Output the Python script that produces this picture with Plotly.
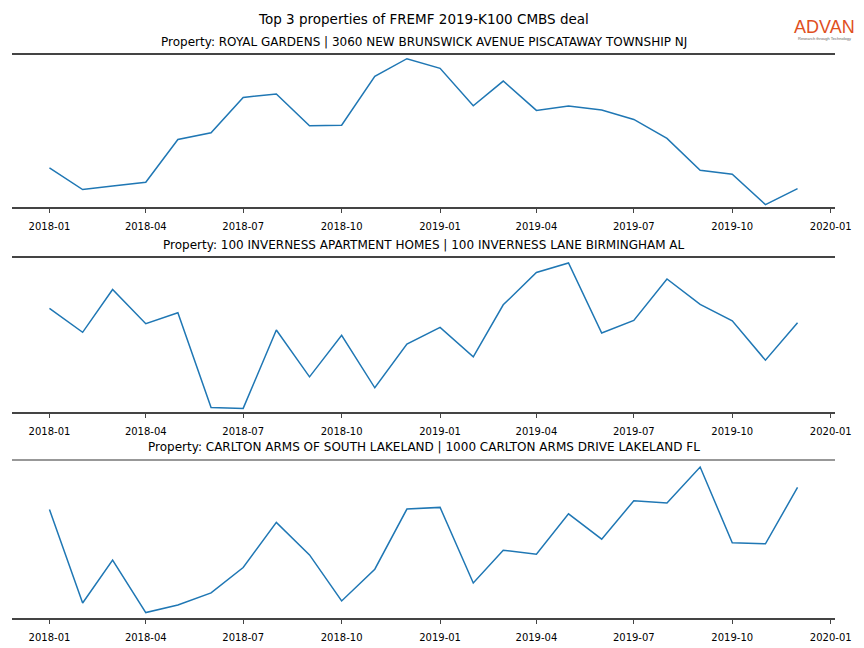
import plotly.graph_objects as go
import pandas as pd

W, H = 864, 648

months = pd.date_range("2018-01-01", "2019-12-01", freq="MS")
tick_dates = pd.date_range("2018-01-01", "2020-01-01", freq="3MS")
tick_labels = [d.strftime("%Y-%m") for d in tick_dates]

titles = [
    "Property: ROYAL GARDENS | 3060 NEW BRUNSWICK AVENUE PISCATAWAY TOWNSHIP NJ",
    "Property: 100 INVERNESS APARTMENT HOMES | 100 INVERNESS LANE BIRMINGHAM AL",
    "Property: CARLTON ARMS OF SOUTH LAKELAND | 1000 CARLTON ARMS DRIVE LAKELAND FL",
]

royal_gardens = [39.0, 17.4, 21.0, 24.7, 67.4, 74.0, 109.4, 112.7, 81.0, 81.7, 130.4, 148.0,
                 138.4, 101.0, 125.7, 96.4, 100.7, 96.7, 87.4, 68.4, 36.7, 32.7, 2.4, 18.4]
inverness = [104.0, 80.0, 123.0, 88.6, 99.6, 4.6, 3.6, 82.3, 35.3, 77.0, 24.3, 68.3,
             85.0, 55.3, 107.6, 140.0, 149.6, 79.3, 92.0, 133.6, 108.0, 91.6, 52.0, 89.6]
carlton = [108.4, 15.0, 57.7, 5.4, 13.0, 25.0, 50.4, 95.4, 63.0, 17.0, 48.7, 108.7,
           110.4, 35.0, 67.7, 63.7, 104.0, 78.7, 117.0, 114.7, 150.7, 75.0, 74.0, 130.4]

series = [royal_gardens, inverness, carlton]
y_ranges = [[0, 151.7], [0, 154.6], [0, 157.7]]
# panel pixel extents (top, bottom)
panels_px = [(55, 207), (258, 412), (460, 618)]

x_range = [months[0] - pd.Timedelta(days=35), months[-1] + pd.Timedelta(days=35)]

FONT = "DejaVu Sans"
fig = go.Figure()
annotations = []
shapes = []
for i, (vals, (t, b)) in enumerate(zip(series, panels_px)):
    n = "" if i == 0 else str(i + 1)
    fig.add_trace(go.Scatter(x=months, y=vals, mode="lines",
                             line=dict(color="#1f77b4", width=1.5),
                             xaxis="x" + n, yaxis="y" + n, showlegend=False))
    dom = [1 - b / H, 1 - t / H]
    mirror = i < 2
    fig.update_layout(**{
        "xaxis" + n: dict(domain=[0, 1], range=x_range, anchor="y" + n,
                          tickvals=tick_dates, ticktext=tick_labels,
                          showgrid=False, zeroline=False,
                          showline=True, linecolor="#444444", linewidth=2,
                          mirror=mirror,
                          ticks="outside", ticklen=4, tickwidth=1, tickcolor="#444444",
                          ticklabelstandoff=5,
                          tickfont=dict(family=FONT, size=10, color="black")),
        "yaxis" + n: dict(domain=dom, range=y_ranges[i], anchor="x" + n,
                          showgrid=False, zeroline=False, showline=False,
                          showticklabels=False, ticks=""),
    })
    annotations.append(dict(text=titles[i], xref="paper", yref="paper",
                            x=0.5, y=1 - (t - 13) / H, xanchor="center", yanchor="middle",
                            showarrow=False, font=dict(family=FONT, size=12, color="black")))
    if not mirror:
        shapes.append(dict(type="line", xref="paper", yref="paper",
                           x0=0, x1=1, y0=dom[1], y1=dom[1],
                           line=dict(color="#333333", width=1.2)))

annotations.append(dict(text="Top 3 properties of FREMF 2019-K100 CMBS deal",
                        xref="paper", yref="paper", x=0.5, y=1 - 19 / H,
                        xanchor="center", yanchor="middle", showarrow=False,
                        font=dict(family=FONT, size=13.5, color="black")))
# logo
annotations.append(dict(text="ADVAN", xref="paper", yref="paper",
                        x=(824 - 12) / (835 - 12), y=1 - 27 / H, xanchor="center", yanchor="middle",
                        showarrow=False,
                        font=dict(family="Liberation Sans", size=18, color="#E0501E")))
annotations.append(dict(text="Research through Technology", xref="paper", yref="paper",
                        x=(824 - 12) / (835 - 12), y=1 - 38.5 / H, xanchor="center", yanchor="middle",
                        showarrow=False,
                        font=dict(family="Liberation Sans", size=4, color="#666666")))

fig.update_layout(width=W, height=H, margin=dict(l=12, r=29, t=0, b=0),
                  paper_bgcolor="white", plot_bgcolor="white",
                  annotations=annotations, shapes=shapes)

fig.write_html("out.html", config={"displayModeBar": False},
               post_script="document.body.style.margin='0px';")
